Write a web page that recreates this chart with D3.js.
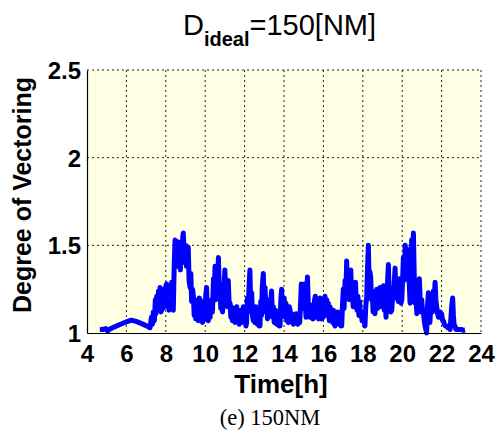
<!DOCTYPE html>
<html>
<head>
<meta charset="utf-8">
<script src="https://cdn.jsdelivr.net/npm/d3@7"></script>
<style>
  body { margin: 0; background: #fff; }
  svg { display: block; }
</style>
</head>
<body>
<svg id="chart" width="502" height="441"></svg>
<script>
// Data: [time in hours, degree of vectoring]
const xTicks = [4, 6, 8, 10, 12, 14, 16, 18, 20, 22, 24];
const yTicks = [1, 1.5, 2, 2.5];
const yTickLabels = ["1", "1.5", "2", "2.5"];

const vectoringSeries = [
  [4.65,1.02],[4.8,1.02],[4.95,1.025],[5.05,1.01],[5.12,1.02],[5.4,1.035],[5.7,1.05],[6.0,1.063],
  [6.25,1.073],[6.5,1.066],[6.8,1.052],[7.0,1.042],[7.2,1.03],
  [7.27,1.09],[7.32,1.05],[7.37,1.12],[7.42,1.07],[7.47,1.19],[7.5,1.11],[7.54,1.21],[7.58,1.13],
  [7.63,1.24],[7.67,1.15],[7.71,1.26],[7.75,1.12],[7.79,1.13],[7.83,1.23],[7.87,1.14],[7.91,1.25],
  [7.95,1.16],[8.0,1.27],[8.04,1.28],[8.08,1.15],[8.12,1.24],[8.16,1.13],[8.2,1.26],[8.24,1.17],
  [8.3,1.29],[8.34,1.16],[8.38,1.13],
  [8.43,1.40],[8.47,1.53],[8.5,1.40],[8.54,1.51],[8.58,1.38],[8.62,1.52],[8.66,1.43],[8.7,1.50],
  [8.74,1.36],[8.78,1.48],[8.82,1.40],[8.86,1.55],[8.89,1.57],[8.93,1.44],[8.97,1.42],[9.01,1.50],
  [9.05,1.38],[9.1,1.47],[9.14,1.49],[9.18,1.30],[9.23,1.26],
  [9.27,1.34],[9.31,1.18],[9.36,1.25],[9.4,1.21],[9.44,1.10],[9.48,1.19],[9.52,1.08],[9.57,1.08],
  [9.61,1.16],[9.65,1.07],[9.7,1.20],[9.74,1.19],[9.78,1.07],[9.82,1.17],[9.86,1.06],[9.9,1.07],
  [9.94,1.18],[9.98,1.09],[10.03,1.22],[10.07,1.26],[10.11,1.10],[10.16,1.07],[10.2,1.17],[10.25,1.09],
  [10.29,1.15],[10.33,1.19],[10.37,1.12],[10.42,1.31],[10.46,1.20],[10.5,1.38],[10.54,1.19],[10.58,1.35],
  [10.63,1.24],[10.67,1.43],[10.71,1.27],[10.75,1.25],[10.79,1.14],[10.84,1.23],[10.88,1.12],[10.92,1.19],
  [10.96,1.28],[11.0,1.36],[11.04,1.20],[11.08,1.26],[11.12,1.15],[11.17,1.30],[11.21,1.18],[11.26,1.17],
  [11.3,1.09],[11.34,1.15],[11.38,1.07],[11.43,1.09],[11.47,1.14],[11.51,1.06],[11.56,1.13],[11.6,1.15],
  [11.64,1.07],[11.68,1.12],[11.73,1.05],[11.77,1.07],[11.81,1.13],[11.85,1.06],[11.9,1.12],[11.94,1.15],
  [11.98,1.07],[12.03,1.11],[12.07,1.04],[12.1,1.06],[12.14,1.20],[12.18,1.12],[12.23,1.28],[12.27,1.36],
  [12.31,1.15],[12.36,1.23],[12.4,1.10],[12.44,1.07],[12.48,1.13],[12.52,1.06],[12.57,1.15],[12.61,1.11],
  [12.65,1.05],[12.7,1.09],[12.74,1.04],[12.78,1.04],[12.82,1.18],[12.86,1.10],[12.9,1.27],[12.95,1.34],
  [12.99,1.14],[13.04,1.26],[13.08,1.12],[13.12,1.19],[13.16,1.08],[13.2,1.11],[13.25,1.19],[13.29,1.10],
  [13.33,1.17],[13.37,1.24],[13.41,1.09],[13.46,1.15],[13.5,1.06],[13.54,1.06],[13.58,1.13],[13.62,1.05],
  [13.67,1.10],[13.71,1.07],[13.75,1.04],[13.8,1.04],[13.84,1.19],[13.88,1.25],[13.92,1.15],[13.97,1.15],
  [14.01,1.20],[14.05,1.09],[14.1,1.17],[14.14,1.07],[14.18,1.13],[14.22,1.06],[14.27,1.15],[14.31,1.13],
  [14.35,1.07],[14.4,1.11],[14.44,1.06],[14.48,1.05],[14.53,1.10],[14.57,1.06],[14.62,1.11],[14.66,1.09],
  [14.7,1.05],[14.75,1.07],[14.8,1.06],[14.84,1.17],[14.88,1.28],[14.92,1.18],[14.96,1.27],[15.0,1.14],
  [15.04,1.28],[15.08,1.16],[15.12,1.09],[15.16,1.22],[15.19,1.32],[15.23,1.18],[15.27,1.13],[15.31,1.09],
  [15.35,1.16],[15.39,1.13],[15.43,1.15],[15.47,1.08],[15.51,1.12],[15.55,1.19],[15.59,1.21],[15.63,1.11],
  [15.67,1.09],[15.71,1.16],[15.75,1.08],[15.79,1.17],[15.83,1.20],[15.87,1.12],[15.92,1.08],[15.96,1.15],
  [16.0,1.09],[16.04,1.19],[16.08,1.21],[16.12,1.12],[16.17,1.19],[16.21,1.10],[16.25,1.17],[16.3,1.07],
  [16.34,1.15],[16.38,1.08],[16.42,1.13],[16.47,1.06],[16.51,1.13],[16.55,1.05],[16.59,1.04],[16.63,1.10],
  [16.68,1.06],[16.72,1.12],[16.76,1.09],[16.8,1.05],[16.85,1.08],[16.89,1.04],[16.93,1.04],[16.97,1.16],
  [17.01,1.25],[17.05,1.14],[17.1,1.30],[17.14,1.20],[17.18,1.41],[17.22,1.25],[17.27,1.31],[17.31,1.19],
  [17.35,1.27],[17.39,1.36],[17.43,1.22],[17.47,1.27],[17.51,1.15],[17.55,1.28],[17.59,1.21],[17.63,1.29],
  [17.67,1.15],[17.71,1.13],[17.75,1.21],[17.8,1.10],[17.84,1.18],[17.88,1.10],[17.92,1.12],[17.96,1.07],
  [18.0,1.10],[18.04,1.09],[18.08,1.06],[18.11,1.04],[18.15,1.15],[18.2,1.21],[18.24,1.37],[18.28,1.50],
  [18.32,1.30],[18.36,1.35],[18.4,1.32],[18.44,1.19],[18.48,1.24],[18.52,1.12],[18.57,1.18],[18.62,1.11],
  [18.66,1.18],[18.71,1.25],[18.75,1.14],[18.8,1.23],[18.84,1.15],[18.88,1.26],[18.92,1.18],[18.96,1.15],
  [19.0,1.22],[19.05,1.27],[19.09,1.13],[19.14,1.16],[19.18,1.09],[19.22,1.21],[19.26,1.30],[19.3,1.39],
  [19.34,1.20],[19.38,1.24],[19.42,1.12],[19.47,1.13],[19.51,1.21],[19.55,1.20],[19.59,1.28],[19.64,1.37],
  [19.68,1.20],[19.72,1.26],[19.76,1.26],[19.8,1.18],[19.86,1.31],[19.9,1.20],[19.94,1.17],[19.98,1.19],
  [20.02,1.30],[20.06,1.43],[20.1,1.30],[20.15,1.50],[20.19,1.32],[20.23,1.48],[20.27,1.35],[20.31,1.47],
  [20.35,1.30],[20.4,1.17],[20.44,1.38],[20.48,1.53],[20.52,1.40],[20.57,1.57],[20.61,1.33],[20.65,1.17],
  [20.69,1.25],[20.74,1.11],[20.78,1.19],[20.83,1.26],[20.87,1.31],[20.91,1.20],[20.95,1.12],[20.99,1.19],
  [21.03,1.12],[21.08,1.11],[21.12,1.07],[21.16,1.04],[21.2,1.02],[21.24,1.00],[21.28,1.15],[21.33,1.23],
  [21.37,1.10],[21.41,1.06],[21.45,1.18],[21.5,1.21],[21.54,1.12],[21.58,1.24],[21.62,1.18],[21.67,1.29],
  [21.71,1.19],[21.75,1.15],[21.8,1.11],[21.84,1.09],[21.89,1.09],[21.93,1.12],[21.97,1.11],[22.0,1.11],
  [22.05,1.07],[22.09,1.07],[22.14,1.05],[22.2,1.04],[22.26,1.04],[22.32,1.03],[22.38,1.03],[22.43,1.02],
  [22.47,1.08],[22.51,1.15],[22.56,1.20],[22.6,1.10],[22.64,1.04],[22.68,1.04],[22.73,1.02],[22.77,1.02],
  [22.85,1.02],[22.95,1.02],[23.02,1.02],[23.1,1.015],[23.19,1.017]
];

const svg = d3.select("#chart");
const margin = { top: 70, right: 21, bottom: 108, left: 87 };
const width = +svg.attr("width") - margin.left - margin.right;
const height = +svg.attr("height") - margin.top - margin.bottom;
const font = "'Liberation Sans', Arial, Helvetica, sans-serif";

const chartArea = svg
  .append("g")
  .attr("transform", `translate(${margin.left},${margin.top})`);

const xScale = d3.scaleLinear().domain([4, 24]).range([0, width]);
const yScale = d3.scaleLinear().domain([1, 2.5]).range([height, 0]);

// plot background
chartArea
  .append("rect")
  .attr("width", width)
  .attr("height", height)
  .attr("fill", "#ffffe3");

// dotted grid
chartArea
  .append("g")
  .selectAll("line")
  .data(xTicks.slice(1))
  .join("line")
  .attr("x1", (d) => xScale(d))
  .attr("x2", (d) => xScale(d))
  .attr("y1", 0)
  .attr("y2", height)
  .attr("stroke", "#222")
  .attr("stroke-dasharray", "2,3");

chartArea
  .append("g")
  .selectAll("line")
  .data(yTicks.slice(1))
  .join("line")
  .attr("x1", 0)
  .attr("x2", width)
  .attr("y1", (d) => yScale(d))
  .attr("y2", (d) => yScale(d))
  .attr("stroke", "#222")
  .attr("stroke-dasharray", "2,3");

// the series
const line = d3
  .line()
  .x((d) => xScale(d[0]))
  .y((d) => yScale(d[1]));

chartArea
  .append("path")
  .datum(vectoringSeries)
  .attr("fill", "none")
  .attr("stroke", "#0000ff")
  .attr("stroke-width", 5)
  .attr("stroke-linejoin", "round")
  .attr("d", line);

// axes (left and bottom solid)
const xAxis = chartArea
  .append("g")
  .attr("transform", `translate(0,${height})`)
  .call(d3.axisBottom(xScale).tickValues(xTicks).tickSize(0).tickPadding(12));

const yAxis = chartArea
  .append("g")
  .call(
    d3.axisLeft(yScale)
      .tickValues(yTicks)
      .tickSize(0)
      .tickPadding(6)
      .tickFormat((d, i) => yTickLabels[i])
  );

[xAxis, yAxis].forEach((ax) => {
  ax.select(".domain").attr("stroke", "#000").attr("stroke-width", 1.2);
  ax.selectAll("text")
    .attr("fill", "#000")
    .style("font-family", font)
    .style("font-weight", "bold")
    .style("font-size", "24px");
});
xAxis.selectAll("text").attr("dy", "0.71em");
yAxis.selectAll("text").attr("dy", "0.36em");

// axis labels
svg
  .append("text")
  .attr("x", margin.left + width / 2 - 3)
  .attr("y", 393)
  .attr("text-anchor", "middle")
  .style("font-family", font)
  .style("font-weight", "bold")
  .style("font-size", "26px")
  .text("Time[h]");

svg
  .append("text")
  .attr("transform", "translate(31,195) rotate(-90)")
  .attr("text-anchor", "middle")
  .style("font-family", font)
  .style("font-weight", "bold")
  .style("font-size", "25px")
  .text("Degree of Vectoring");

// title with subscript
const title = svg
  .append("text")
  .attr("x", 183)
  .attr("y", 35)
  .style("font-family", font)
  .style("font-size", "29px");
title.append("tspan").text("D");
title
  .append("tspan")
  .attr("dy", 11)
  .style("font-size", "20px")
  .style("font-weight", "bold")
  .text("ideal");
title.append("tspan").attr("dy", -11).text("=150[NM]");

// caption
svg
  .append("text")
  .attr("x", 270)
  .attr("y", 425)
  .attr("text-anchor", "middle")
  .style("font-family", "'Liberation Serif', 'Times New Roman', serif")
  .style("font-size", "22.5px")
  .text("(e) 150NM");
</script>
</body>
</html>
